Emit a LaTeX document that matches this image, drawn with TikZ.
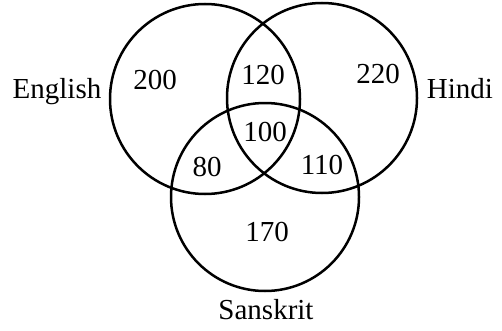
\documentclass[tikz,border=0pt]{standalone}
\usepackage{fontspec}
\setmainfont{Liberation Serif}
\usetikzlibrary{positioning}

\begin{document}
\begin{tikzpicture}[
    x=1pt, y=1pt,
    set/.style={draw, circle, line width=2.5pt, minimum size=190pt, inner sep=0pt},
    count/.style={font=\fontsize{29}{30}\selectfont, inner sep=0pt},
    setname/.style={font=\fontsize{29}{30}\selectfont, inner sep=0pt}
]
\useasboundingbox (0,0) rectangle (502,330);

\node[set] (eng) at (205,231) {};
\node[set] (hin) at (322,232) {};
\node[set, minimum size=188pt] (san) at (265,133) {};

\node[setname] (engname) at (57,238) {English};
\node[setname] (hinname) at (460,241) {Hindi};
\node[setname] (sanname) at (266,20) {Sanskrit};

\node[count] (onlyeng) at (155,250) {200};
\node[count] (enghin) at (263,255) {120};
\node[count] (onlyhin) at (378,256) {220};
\node[count] (all) at (265,198) {100};
\node[count] (engsan) at (207,163) {80};
\node[count] (hinsan) at (322,165) {110};
\node[count] (onlysan) at (267,98) {170};

\end{tikzpicture}
\end{document}
